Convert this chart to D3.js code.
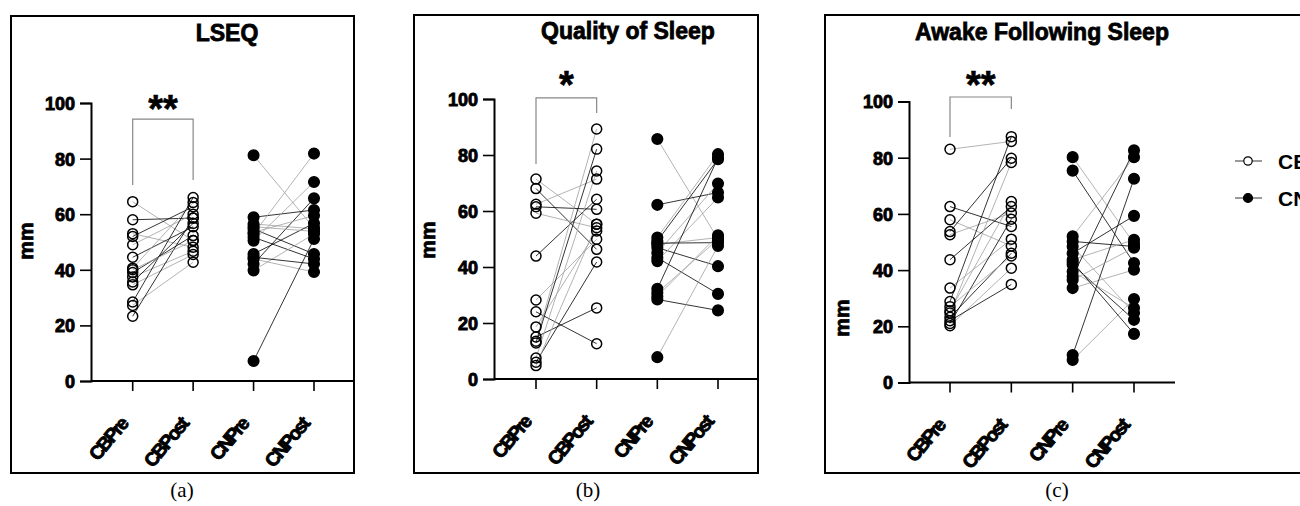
<!DOCTYPE html>
<html>
<head>
<meta charset="utf-8">
<script src="https://cdn.jsdelivr.net/npm/d3@7"></script>
<style>
  body { margin: 0; background: #fff; }
  svg { display: block; font-family: "Liberation Sans", Arial, sans-serif; }
  .tick text { font-weight: bold; font-size: 18px; fill: #000; }
</style>
</head>
<body>
<svg id="chart" width="1300" height="506"></svg>
<script>
const categories = ["CBPre", "CBPost", "CNPre", "CNPost"];
const yTicks = [0, 20, 40, 60, 80, 100];
const legendLabels = ["CB", "CN"];

// LSEQ (mm), one entry per subject, pre/post paired by index
const lseqCBPre  = [64.5, 58, 53, 52, 49, 44.5, 40.6, 39, 37.4, 35.6, 34.6, 28.4, 27.2, 23.3, 40];
const lseqCBPost = [50.5, 58.6, 48.1, 62.7, 60, 55.5, 64.2, 52.3, 46.7, 56.7, 45.5, 66, 42.7, 58.6, 50.5];
const lseqCNPre  = [81.2, 58.9, 56.5, 54.7, 52.9, 51.7, 50.5, 45.7, 43.9, 42.1, 39.8, 7.2, 53.5, 44.5, 55.5];
const lseqCNPost = [55, 61.5, 54.7, 45.7, 81.8, 43.9, 71.6, 56.7, 39.2, 65.7, 52.9, 51.1, 59.5, 42.1, 53.8];

// Quality of Sleep (mm)
const qualCBPre  = [71.4, 68, 62.4, 61.5, 59.2, 43.9, 28.2, 24, 18.6, 15, 13.5, 12.9, 7.5, 6, 4.8];
const qualCBPost = [55.3, 46.3, 71.4, 60.6, 54, 64.2, 49.9, 12.6, 52.9, 25.4, 89.3, 82.1, 74.3, 41.8, 55.3];
const qualCNPre  = [85.7, 62.2, 50.5, 49.3, 48.1, 46.9, 45.1, 43.3, 42.1, 32.2, 30.8, 28.4, 7.8, 48.5, 29.5];
const qualCNPost = [50, 66.6, 80.3, 78.5, 50.5, 40.3, 69.8, 30.4, 64.8, 79, 49.9, 24.5, 47.5, 48.7, 51.3];

// Awake Following Sleep (mm)
const awakeCBPre  = [83, 62.6, 57.9, 53.7, 52.6, 43.7, 33.6, 28.8, 24.7, 23.2, 20.2, 22, 25.5, 21, 27];
const awakeCBPost = [85.8, 55.5, 48.6, 79.8, 60.3, 62.6, 51, 87.5, 78.3, 46, 40.7, 34.9, 64.4, 58.1, 45];
const awakeCNPre  = [80.2, 75.4, 52, 50.2, 48.4, 46, 43.7, 41.9, 39.5, 37.7, 33.6, 9.8, 8, 42.8, 36.5];
const awakeCNPost = [49.5, 42.5, 80.2, 48.4, 24.7, 59.3, 50.8, 22.3, 26.5, 82.6, 40.1, 72.5, 29.7, 17.3, 48];

// significance brackets: [top, left leg end, right leg end] in mm
const lseqBracket = [94.2, 70.5, 72.3];
const qualBracket = [100.4, 76.8, 95];
const awakeBracket = [101.6, 87.4, 97.3];

const svg = d3.select("#chart");

const panels = [
  { title: "LSEQ", tag: "(a)", stars: "**", cb: [lseqCBPre, lseqCBPost], cn: [lseqCNPre, lseqCNPost], bracket: lseqBracket,
    box: [11, 16, 354, 473], axisX: 91, yRange: [381, 103], xRange: [132.7, 314], axisEnd: 354,
    titleX: 227, titleY: 41, mm: [33, 241], starY: 122, tagX: 182 },
  { title: "Quality of Sleep", tag: "(b)", stars: "*", cb: [qualCBPre, qualCBPost], cn: [qualCNPre, qualCNPost], bracket: qualBracket,
    box: [414, 15, 758, 473], axisX: 494, yRange: [379, 99], xRange: [536, 718], axisEnd: 758,
    titleX: 628, titleY: 39, mm: [435, 240], starY: 98, tagX: 588 },
  { title: "Awake Following Sleep", tag: "(c)", stars: "**", cb: [awakeCBPre, awakeCBPost], cn: [awakeCNPre, awakeCNPost], bracket: awakeBracket,
    box: [825, 15, 1310, 473], axisX: 909, yRange: [382.5, 101.5], xRange: [950, 1134], axisEnd: 1175,
    titleX: 1042, titleY: 40, mm: [849, 318], starY: 98, tagX: 1057 }
];

panels.forEach((p) => {
  const g = svg.append("g");
  const [bx0, by0, bx1, by1] = p.box;
  g.append("rect")
    .attr("x", bx0).attr("y", by0)
    .attr("width", bx1 - bx0).attr("height", by1 - by0)
    .attr("fill", "none").attr("stroke", "#000").attr("stroke-width", 2);

  const x = d3.scalePoint().domain(categories).range(p.xRange);
  const y = d3.scaleLinear().domain([0, 100]).range(p.yRange);

  // y axis
  g.append("g")
    .attr("transform", `translate(${p.axisX},0)`)
    .call(d3.axisLeft(y).tickValues(yTicks).tickSize(11).tickPadding(5))
    .call((a) => {
      a.select(".domain").attr("stroke-width", 2);
      a.selectAll(".tick line").attr("stroke-width", 1.6);
      a.selectAll(".tick text").attr("stroke", "#000").attr("stroke-width", 0.9).attr("dy", "0.36em");
    });

  // x axis
  const xa = g.append("g").attr("transform", `translate(0,${p.yRange[0]})`);
  xa.append("line")
    .attr("x1", p.axisX).attr("x2", p.axisEnd)
    .attr("stroke", "#000").attr("stroke-width", 2);
  xa.selectAll(".xtick").data(categories).join("line")
    .attr("x1", (d) => x(d)).attr("x2", (d) => x(d))
    .attr("y1", 0).attr("y2", 10)
    .attr("stroke", "#000").attr("stroke-width", 1.6);
  xa.selectAll(".xlabel").data(categories).join("text")
    .attr("transform", (d) => `translate(${x(d) - 4},${44}) rotate(-50)`)
    .attr("text-anchor", "end")
    .attr("font-size", 19).attr("font-weight", "bold")
    .attr("letter-spacing", -2)
    .attr("stroke", "#000").attr("stroke-width", 0.9)
    .text((d) => d);

  // titles and labels
  g.append("text")
    .attr("x", p.titleX).attr("y", p.titleY)
    .attr("text-anchor", "middle")
    .attr("font-size", 23).attr("font-weight", "bold")
    .attr("stroke", "#000").attr("stroke-width", 0.8)
    .text(p.title);
  g.append("text")
    .attr("transform", `translate(${p.mm[0]},${p.mm[1]}) rotate(-90)`)
    .attr("text-anchor", "middle")
    .attr("font-size", 21).attr("font-weight", "bold")
    .attr("stroke", "#000").attr("stroke-width", 0.8)
    .text("mm");
  g.append("text")
    .attr("x", p.tagX).attr("y", 497)
    .attr("text-anchor", "middle")
    .attr("font-family", "Liberation Serif, serif")
    .attr("font-size", 21)
    .text(p.tag);

  // significance bracket
  const [bt, bl, br] = p.bracket;
  const xl = x("CBPre"), xr = x("CBPost");
  g.append("path")
    .attr("d", `M${xl},${y(bl)}V${y(bt)}H${xr}V${y(br)}`)
    .attr("fill", "none").attr("stroke", "#888").attr("stroke-width", 1.2);
  g.append("text")
    .attr("x", (xl + xr) / 2).attr("y", p.starY)
    .attr("text-anchor", "middle")
    .attr("font-size", 38).attr("font-weight", "bold")
    .attr("stroke", "#000").attr("stroke-width", 0.6)
    .text(p.stars);

  // paired lines then points
  const groups = [
    { vals: p.cb, cats: ["CBPre", "CBPost"], filled: false },
    { vals: p.cn, cats: ["CNPre", "CNPost"], filled: true }
  ];
  groups.forEach((grp) => {
    const [pre, post] = grp.vals;
    g.append("g").selectAll("line").data(pre).join("line")
      .attr("x1", x(grp.cats[0])).attr("x2", x(grp.cats[1]))
      .attr("y1", (d) => y(d)).attr("y2", (d, i) => y(post[i]))
      .attr("stroke", (d, i) => (i % 2 ? "#000" : "#a0a0a0"))
      .attr("stroke-width", 0.8);
  });
  groups.forEach((grp) => {
    grp.vals.forEach((vals, k) => {
      g.append("g").selectAll("circle").data(vals).join("circle")
        .attr("cx", x(grp.cats[k])).attr("cy", (d) => y(d))
        .attr("r", grp.filled ? 5.3 : 5)
        .attr("fill", grp.filled ? "#000" : "#fff")
        .attr("fill-opacity", grp.filled ? 1 : 0)
        .attr("stroke", "#000").attr("stroke-width", 1.5);
    });
  });
});

// legend
const legend = svg.append("g");
legendLabels.forEach((lab, i) => {
  const ly = 161 + i * 37;
  legend.append("line").attr("x1", 1235).attr("x2", 1262).attr("y1", ly).attr("y2", ly)
    .attr("stroke", "#000").attr("stroke-width", 0.8);
  legend.append("circle").attr("cx", 1248).attr("cy", ly).attr("r", i ? 4.5 : 4.2)
    .attr("fill", i ? "#000" : "#fff").attr("stroke", "#000").attr("stroke-width", 1.2);
  legend.append("text").attr("x", 1278).attr("y", ly + 7.5)
    .attr("font-size", 21).attr("font-weight", "bold")
    .text(lab);
});
</script>
</body>
</html>
